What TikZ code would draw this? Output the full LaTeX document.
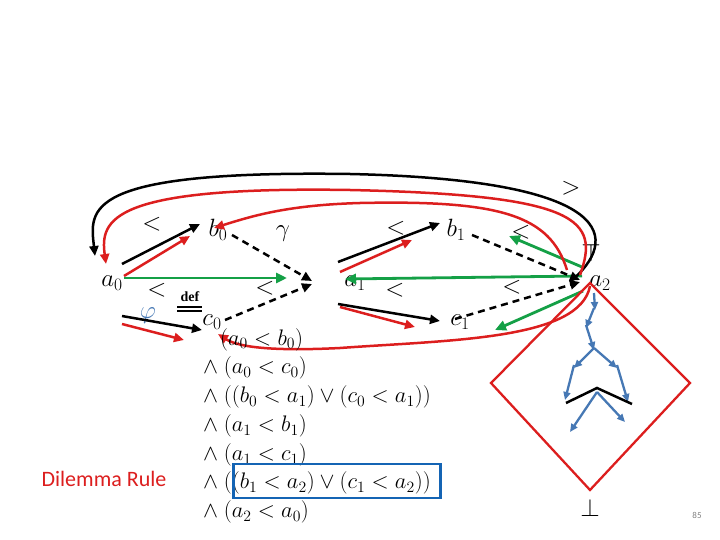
\RequirePackage{fix-cm}
\documentclass[tikz,border=0pt]{standalone}
\usepackage{fontspec}
\setmainfont{Liberation Serif}
\newfontfamily\calfam{Carlito}
\usetikzlibrary{arrows.meta}
\definecolor{myred}{RGB}{220,30,30}
\definecolor{mygreen}{RGB}{20,160,70}
\definecolor{myblue}{RGB}{70,120,180}
\definecolor{boxblue}{RGB}{20,100,180}
\tikzset{
 lbl/.style={font=\fontsize{25}{27}\selectfont, inner sep=1pt},
 bk/.style={black, line width=2.5pt, -{Triangle[length=10pt,width=9pt]}},
 rd/.style={myred, line width=2.5pt, -{Triangle[length=10pt,width=9pt]}},
 gr/.style={mygreen, line width=2.8pt, -{Triangle[length=11pt,width=10pt]}},
 ds/.style={black, line width=2.5pt, dash pattern=on 7pt off 5pt, -{Triangle[length=10pt,width=9pt]}},
 bl/.style={myblue, line width=2.3pt, -{Triangle[length=8pt,width=7pt]}},
 lt/.style={font=\fontsize{25}{27}\selectfont},
 fm/.style={font=\fontsize{22.5}{24}\selectfont, anchor=west, inner sep=0pt}
}
\begin{document}
\begin{tikzpicture}[x=1pt,y=-1pt]
\useasboundingbox (0,0) rectangle (720,540);
% nodes
\node[lbl] (a0) at (112,283) {$a_0$};
\node[lbl] (b0) at (218,230) {$b_0$};
\node[lbl] (c0) at (212,322) {$c_0$};
\node[lbl] (a1) at (355,283) {$a_1$};
\node[lbl] (b1) at (456,230) {$b_1$};
\node[lbl] (c1) at (460,322) {$c_1$};
\node[lbl] (a2) at (600,283) {$a_2$};
% relation labels
\node[lt] (l1) at (152,224) {$<$};
\node[lt] (l2) at (157,290) {$<$};
\node[lt] (l3) at (265,288) {$<$};
\node[lt] (l4) at (396,228) {$<$};
\node[lt] (l5) at (395,290) {$<$};
\node[lt] (l6) at (521,232) {$<$};
\node[lt] (l7) at (512,287) {$<$};
\node[lt] (l8) at (571,188) {$>$};
\node[lt] (l9) at (591,253) {$\top$};
\node[lt, text=myblue] (phi) at (148,316) {$\varphi$};
\node[font=\fontsize{14}{14}\selectfont\bfseries] (def) at (190,297) {def};
\draw[line width=1.2pt] (177,307) -- (202,307) (177,311) -- (202,311);
\node[lbl,text=black] (gm) at (283,234) {$\gamma$};
% black arrows
\draw[bk] (122,264) -- (200,224);
\draw[bk] (122,316) -- (202,330) ;
\draw[bk] (338,262) -- (440,223);
\draw[bk] (338,304) -- (440,321);
% red arrows
\draw[rd] (124,276) -- (190,236);
\draw[rd] (122,324) -- (184,340);
\draw[rd] (340,272) -- (412,240);
\draw[rd] (340,307) -- (415,327);
% green
\draw[gr] (124,278) -- (287,278);
\draw[gr] (582,276) -- (345,279);
\draw[gr] (582,267) -- (509,236);
\draw[gr] (583,291) -- (495,330);
% dashed
\draw[ds] (232,235) -- (312,281);
\draw[ds] (225,320) -- (312,284);
\draw[ds] (472,235) -- (580,280);
\draw[ds] (455,319) -- (580,282);
% arcs
\draw[bk] (570,282) .. controls (620,240) and (620,180) .. (350,174) .. controls (80,170) and (90,210) .. (95,256);
\draw[rd] (580,275) .. controls (600,220) and (580,195) .. (350,190) .. controls (110,186) and (100,220) .. (106,264);
\draw[rd] (567,270) .. controls (550,215) and (500,200) .. (360,203) .. controls (290,205) and (255,215) .. (214,228);
\draw[rd] (590,286) .. controls (580,340) and (450,340) .. (340,348) .. controls (260,352) and (235,345) .. (218,334);
% diamond
\draw[myred, line width=2.3pt] (590,283) -- (690,383) -- (590,490) -- (491,383) -- cycle;
\node[lt] (bot) at (590,508) {$\perp$};
% blue tree
\draw[bl] (594,293) -- (595,310);
\draw[bl] (594,308) -- (586,328);
\draw[bl] (586,325) -- (594,350);
\draw[bl] (594,348) -- (574,368);
\draw[bl] (594,348) -- (617,368);
\draw[bl] (574,365) -- (565,400);
\draw[bl] (617,365) -- (628,402);
\draw[bl] (597,392) -- (570,432);
\draw[bl] (597,392) -- (625,422);
\draw[black, line width=2.5pt] (566,403) -- (597,388) -- (632,404);
% formula
\node[fm] (f1) at (220,340) {$(a_0 < b_0)$};
\node[fm] (f2) at (203,368) {$\wedge\ (a_0 < c_0)$};
\node[fm] (f3) at (203,397) {$\wedge\ ((b_0 < a_1) \vee (c_0 < a_1))$};
\node[fm] (f4) at (203,426) {$\wedge\ (a_1 < b_1)$};
\node[fm] (f5) at (203,455) {$\wedge\ (a_1 < c_1)$};
\node[fm] (f6) at (203,483) {$\wedge\ ((b_1 < a_2) \vee (c_1 < a_2))$};
\node[fm] (f7) at (203,512) {$\wedge\ (a_2 < a_0)$};
\node[draw=boxblue, line width=2.8pt, minimum width=207pt, minimum height=34pt] (bx) at (337,481) {};
\node[font=\calfam\fontsize{22}{24}\selectfont, text=myred] (dr) at (104,479) {Dilemma Rule};
\node[font=\calfam\fontsize{9}{9}\selectfont, text=gray] (pg) at (697,515) {85};
\end{tikzpicture}
\end{document}
